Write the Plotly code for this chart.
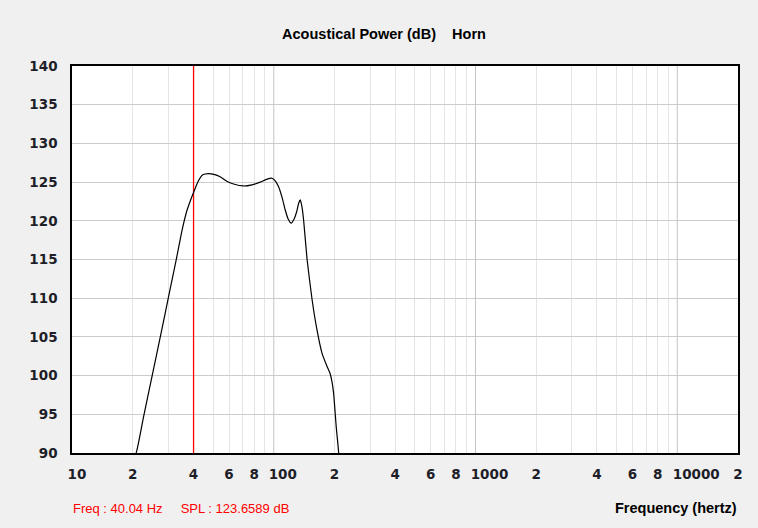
import plotly.graph_objects as go

# ---- data ----
freq_hz = [19.5, 20.8, 22.6, 25.3, 27.9, 30.0, 32.4, 33.1, 34.5, 35.7, 37.1, 38.6, 40.04, 42.4,
           44.5, 47.5, 50.5, 54.2, 58.5, 63.2, 70.8, 78.0, 85.7, 92.0, 98.0, 101.5, 105.7,
           110.0, 114.0, 118.0, 122.0, 126.0, 130.0, 133.0, 135.4, 138.0, 140.6, 146.3,
           154.9, 163.8, 173.4, 183.6, 190.0, 194.4, 198.0, 204.0, 209.8, 213.0]
spl_db = [88.6, 90.0, 94.6, 100.7, 106.0, 110.0, 114.2, 115.4, 117.8, 119.6, 121.3, 122.6, 123.66, 125.2,
          125.95, 126.1, 126.0, 125.7, 125.1, 124.75, 124.5, 124.65, 125.0, 125.35, 125.5, 125.2, 124.4,
          123.0, 121.4, 120.2, 119.7, 120.2, 121.2, 122.3, 122.7, 121.8, 120.1, 115.0,
          109.8, 105.9, 102.9, 101.2, 100.3, 99.2, 97.7, 93.4, 90.0, 86.0]

cursor_freq = 40.04
cursor_spl = 123.6589

y_ticks = [90, 95, 100, 105, 110, 115, 120, 125, 130, 135, 140]
x_tick_vals = [10, 20, 40, 60, 80, 100, 200, 400, 600, 800, 1000, 2000, 4000, 6000, 8000, 10000, 20000]
x_tick_text = ["10", "2", "4", "6", "8", "100", "2", "4", "6", "8", "1000", "2", "4", "6", "8", "10000", "2"]
minor_grid = [m * d for d in [10, 100, 1000, 10000] for m in range(2, 10)]
decade_lines = [100, 1000, 10000]

NBSP = "\u00a0"
DIGIT_W = 9.4  # px width of one digit in the tick font
TICKFONT = dict(family="DejaVu Sans", size=13.5, color="#1e1e28", weight="bold")
XRANGE = [1, 4.30103]

fig = go.Figure()

# decade grid lines (darker)
dx, dy = [], []
for d in decade_lines:
    dx += [d, d, None]
    dy += [90, 140, None]
fig.add_trace(go.Scatter(x=dx, y=dy, mode="lines", line=dict(color="#c4c4c4", width=1),
                         hoverinfo="skip", showlegend=False))

# cursor
fig.add_trace(go.Scatter(x=[cursor_freq, cursor_freq], y=[90, 140], mode="lines",
                         line=dict(color="#ff0000", width=1.3), showlegend=False))

# response curve
fig.add_trace(go.Scatter(x=freq_hz, y=spl_db, mode="lines",
                         line=dict(color="#000000", width=1.2, shape="spline", smoothing=0.5),
                         showlegend=False))

# tick labels: the original starts every label half a digit left of its tick,
# so labels are grouped by length and shifted on overlaid axes
groups = {}
for v, t in zip(x_tick_vals, x_tick_text):
    groups.setdefault(len(t), ([], []))
    groups[len(t)][0].append(v)
    groups[len(t)][1].append(t)

axis_common = dict(type="log", range=XRANGE, tickangle=0, zeroline=False, ticks="",
                   ticklabelstandoff=8, tickfont=TICKFONT, showline=True, linecolor="#000000",
                   linewidth=1.5)
layout_axes = {}
for i, n in enumerate(sorted(groups)):
    vals, texts = groups[n]
    shift = int(round((n - 1) * DIGIT_W / 2))
    if i == 0:
        layout_axes["xaxis"] = dict(**axis_common, tickvals=vals, ticktext=texts, ticklabelshift=shift,
                                    showgrid=False, mirror=True,
                                    minor=dict(tickvals=minor_grid, showgrid=True, gridcolor="#e4e4e4",
                                               gridwidth=1, ticks=""))
    else:
        name = f"xaxis{i + 1}"
        layout_axes[name] = dict(**axis_common, tickvals=vals, ticktext=texts, ticklabelshift=shift,
                                 showgrid=False, overlaying="x", anchor="y", side="bottom")
        fig.add_trace(go.Scatter(x=[], y=[], xaxis=f"x{i + 1}", yaxis="y", showlegend=False,
                                 hoverinfo="skip"))

fig.update_layout(
    width=758, height=528,
    paper_bgcolor="#f0f0f0", plot_bgcolor="#ffffff",
    margin=dict(l=72, r=20, t=66, b=75),
    title=dict(text="Acoustical Power (dB)" + NBSP * 4 + "Horn", x=384 / 758, xref="container",
               xanchor="center", y=1 - 34 / 528, yref="container", yanchor="middle",
               font=dict(family="Liberation Sans", size=14.5, color="#000000", weight="bold")),
    yaxis=dict(range=[90, 140], tickvals=y_ticks, showgrid=True, gridcolor="#cccccc", gridwidth=1,
               zeroline=False, showline=True, linecolor="#000000", linewidth=1.5, mirror=True,
               ticks="", ticklabelstandoff=10, tickfont=TICKFONT),
    annotations=[
        dict(text=f"Freq : {cursor_freq:.2f} Hz" + NBSP * 5 + f"SPL : {cursor_spl} dB",
             xref="paper", yref="paper", x=-1 / 666, y=-55 / 387, xanchor="left", yanchor="middle",
             showarrow=False, font=dict(family="Liberation Sans", size=13, color="#ff0000")),
        dict(text="Frequency (hertz)", xref="paper", yref="paper", x=1.0 + 1 / 666, y=-55 / 387,
             xanchor="right", yanchor="middle", showarrow=False,
             font=dict(family="Liberation Sans", size=14.5, color="#000000", weight="bold")),
    ],
    **layout_axes,
)

fig.write_html("out.html", config={"displayModeBar": False},
               post_script="document.body.style.margin='0';document.body.style.background='#f0f0f0';")
